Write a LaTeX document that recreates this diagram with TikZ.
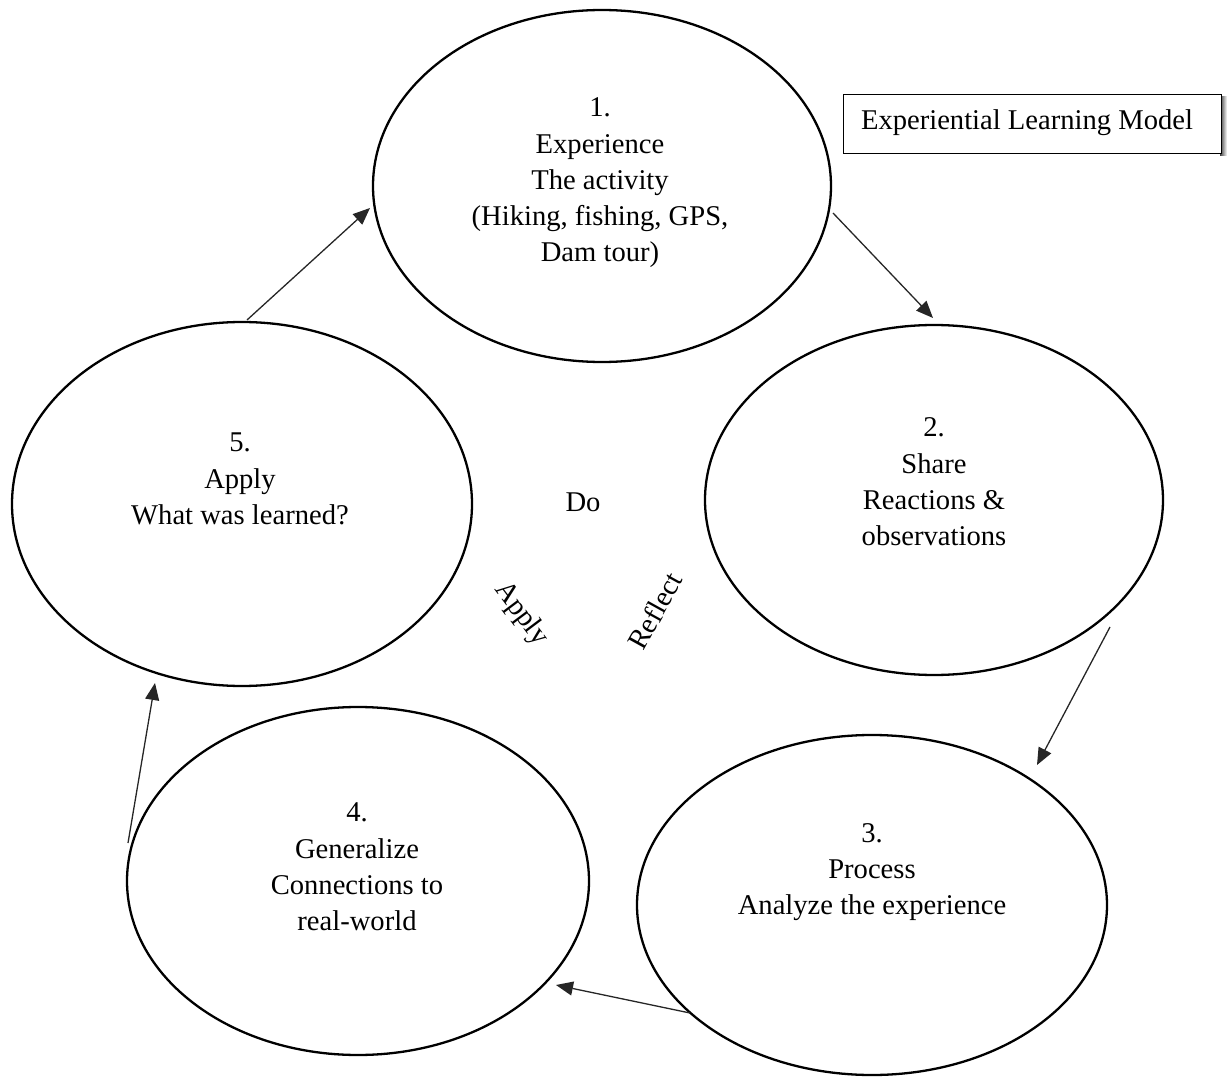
\documentclass[tikz,border=0pt]{standalone}
\usepackage{fontspec}
\setmainfont{Liberation Serif}
\usetikzlibrary{shapes.geometric,arrows.meta}
\begin{document}
\begin{tikzpicture}[x=1pt,y=-1pt,
  stage/.style={ellipse, draw, line width=2.3pt, inner sep=0pt},
  lbl/.style={font=\fontsize{28.6}{36.3}\selectfont, inner sep=0pt, align=center},
  flow/.style={draw=black!85, line width=1.3pt, -{Triangle[length=17pt,width=14pt]}}]
\useasboundingbox (0,0) rectangle (1227,1078);
% stages
\node[stage, minimum width=458pt, minimum height=352pt] (e1) at (602,186) {};
\node[stage, minimum width=458pt, minimum height=350pt] (e2) at (934,500) {};
\node[stage, minimum width=470pt, minimum height=340pt] (e3) at (872,905) {};
\node[stage, minimum width=462pt, minimum height=348pt] (e4) at (358,881) {};
\node[stage, minimum width=460pt, minimum height=364pt] (e5) at (242,504) {};
% stage texts
\node[lbl] (t1) at (600,183) {1.\\Experience\\The activity\\(Hiking, fishing, GPS,\\Dam tour)};
\node[lbl] (t2) at (934,482) {2.\\Share\\Reactions \&\\observations};
\node[lbl] (t3) at (872,872) {3.\\Process\\Analyze the experience};
\node[lbl] (t4) at (357,867) {4.\\Generalize\\Connections to\\real-world};
\node[lbl] (t5) at (240,479) {5.\\Apply\\What was learned?};
% centre words
\node[lbl] (do) at (583,502) {Do};
\node[lbl, rotate=-53] (ap) at (521,614) {Apply};
\node[lbl, rotate=61] (rf) at (655,611) {Reflect};
% title box with shadow
\shade[left color=black!75, right color=white] (1220,97) rectangle (1227,156);
\node[draw, line width=1pt, fill=white, minimum width=378pt, minimum height=59pt, inner sep=0pt] (title) at (1032,124.5) {};
\node[lbl] (tt) at (1027,123) {Experiential Learning Model};
% arrow end points
\coordinate (a1s) at (833,213);  \coordinate (a1e) at (933,318);
\coordinate (a2s) at (1110,627); \coordinate (a2e) at (1037,765);
\coordinate (a3s) at (690,1013); \coordinate (a3e) at (556,985);
\coordinate (a4s) at (128,843);  \coordinate (a4e) at (155,683);
\coordinate (a5s) at (247,320);  \coordinate (a5e) at (370,208);
\draw[flow] (a1s) -- (a1e);
\draw[flow] (a2s) -- (a2e);
\draw[flow] (a3s) -- (a3e);
\draw[flow] (a4s) -- (a4e);
\draw[flow] (a5s) -- (a5e);
\end{tikzpicture}
\end{document}
